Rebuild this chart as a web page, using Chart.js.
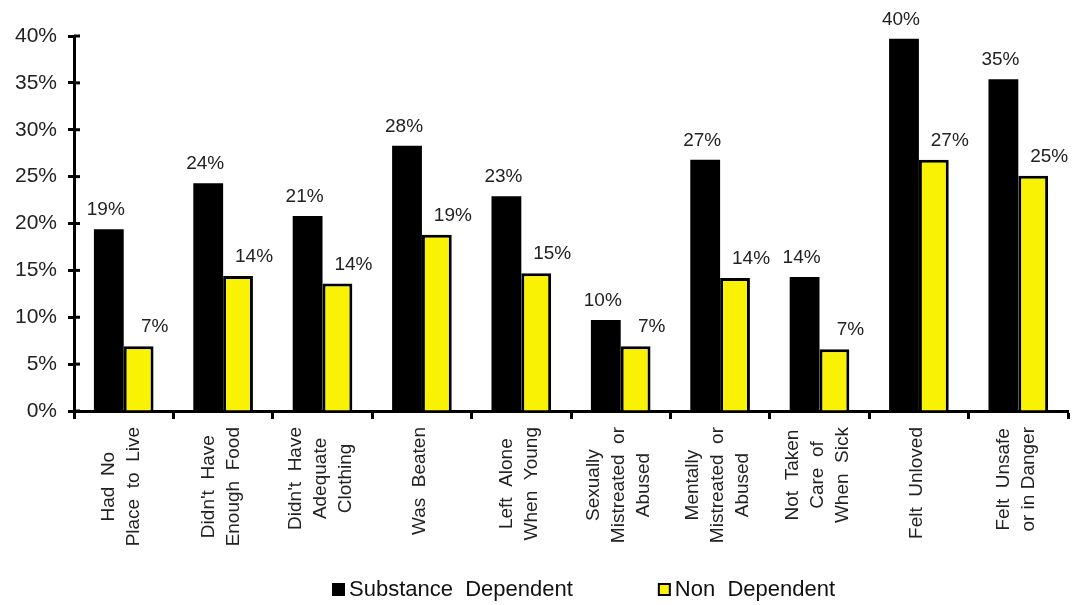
<!DOCTYPE html>
<html>
<head>
<meta charset="utf-8">
<script src="https://cdn.jsdelivr.net/npm/chart.js@4/dist/chart.umd.min.js"></script>
<style>
  html, body { margin: 0; padding: 0; background: #fff; }
  #wrap { width: 1084px; height: 605px; }
</style>
</head>
<body>
<div id="wrap"><canvas id="abuseChart" width="1084" height="605"></canvas></div>
<script>
// categories (one array per line of the rotated label)
const categories = [
  ['Had  No', 'Place  to  Live'],
  ["Didn't  Have", 'Enough  Food'],
  ["Didn't  Have", 'Adequate', 'Clothing'],
  ['Was  Beaten'],
  ['Left  Alone', 'When  Young'],
  ['Sexually', 'Mistreated  or', 'Abused'],
  ['Mentally', 'Mistreated  or', 'Abused'],
  ['Not  Taken', 'Care  of', 'When  Sick'],
  ['Felt  Unloved'],
  ['Felt  Unsafe', 'or in Danger']
];
const substanceDependent = [19.4, 24.3, 20.8, 28.3, 22.9, 9.7, 26.8, 14.3, 39.7, 35.4];
const nonDependent = [6.9, 14.4, 13.6, 18.8, 14.7, 6.9, 14.2, 6.6, 26.8, 25.1];
const yTicks = [0, 5, 10, 15, 20, 25, 30, 35, 40];
const seriesNames = ['Substance  Dependent', 'Non  Dependent'];

const FONT = "'Liberation Sans', Arial, sans-serif";

// value labels above each bar
const valueLabels = {
  id: 'valueLabels',
  afterDatasetsDraw(chart) {
    const ctx = chart.ctx;
    ctx.save();
    ctx.font = '19px ' + FONT;
    ctx.fillStyle = '#222';
    ctx.textAlign = 'center';
    ctx.textBaseline = 'alphabetic';
    chart.data.datasets.forEach((ds, di) => {
      const meta = chart.getDatasetMeta(di);
      meta.data.forEach((bar, i) => {
        const dx = di === 0 ? -3 : 16;
        ctx.fillText(Math.round(ds.data[i]) + '%', bar.x + dx, bar.y - 14);
      });
    });
    ctx.restore();
  }
};

// y tick marks also poke into the plot a little
const innerTicks = {
  id: 'innerTicks',
  afterDraw(chart) {
    const ctx = chart.ctx;
    const ys = chart.scales.y;
    ctx.save();
    ctx.strokeStyle = '#000';
    ctx.lineWidth = 3;
    yTicks.forEach(v => {
      const py = ys.getPixelForValue(v);
      ctx.beginPath();
      ctx.moveTo(ys.right, py);
      ctx.lineTo(ys.right + 6, py);
      ctx.stroke();
    });
    ctx.restore();
  }
};

// rotated multi-line category labels, lines centred on each other
const categoryLabels = {
  id: 'categoryLabels',
  afterDraw(chart) {
    const ctx = chart.ctx;
    const xs = chart.scales.x;
    const top = xs.top + 16;
    const lineH = 25;
    ctx.save();
    ctx.font = '19px ' + FONT;
    ctx.fillStyle = '#222';
    ctx.textAlign = 'center';
    ctx.textBaseline = 'middle';
    categories.forEach((lines, i) => {
      const x = xs.getPixelForValue(i) - 2;
      const w = Math.max(...lines.map(l => ctx.measureText(l).width));
      ctx.save();
      ctx.translate(x, top + w / 2);
      ctx.rotate(-Math.PI / 2);
      lines.forEach((line, j) => {
        ctx.fillText(line, 0, (j - (lines.length - 1) / 2) * lineH);
      });
      ctx.restore();
    });
    ctx.restore();
  }
};

// legend row under the labels
const bottomLegend = {
  id: 'bottomLegend',
  afterDraw(chart) {
    const ctx = chart.ctx;
    const y = 590;
    let x = 332;
    ctx.save();
    ctx.font = '22px ' + FONT;
    ctx.textBaseline = 'middle';
    ctx.textAlign = 'left';
    chart.data.datasets.forEach((ds, i) => {
      ctx.fillStyle = ds.borderWidth ? ds.borderColor : ds.backgroundColor;
      ctx.fillRect(x, y - 7, 13, 13);
      if (ds.borderWidth) {
        ctx.fillStyle = ds.backgroundColor;
        ctx.fillRect(x + 2, y - 5, 9, 9);
      }
      ctx.fillStyle = '#111';
      ctx.fillText(seriesNames[i], x + 17, y);
      x += 17 + ctx.measureText(seriesNames[i]).width + 85;
    });
    ctx.restore();
  }
};

new Chart(document.getElementById('abuseChart'), {
  type: 'bar',
  data: {
    labels: categories,
    datasets: [{
      label: seriesNames[0],
      data: substanceDependent,
      backgroundColor: '#000000',
      borderColor: '#000000',
      borderWidth: 0
    }, {
      label: seriesNames[1],
      data: nonDependent,
      backgroundColor: '#faf205',
      borderColor: '#000000',
      borderWidth: 3
    }]
  },
  options: {
    responsive: false,
    animation: false,
    datasets: {
      bar: { categoryPercentage: 0.6, barPercentage: 1.0 }
    },
    layout: {
      padding: { top: 36, right: 16, bottom: 0, left: 4 }
    },
    scales: {
      x: {
        grid: {
          drawOnChartArea: false,
          drawTicks: true,
          tickLength: 8,
          tickWidth: 3,
          tickColor: '#000'
        },
        border: { color: '#000', width: 3 },
        ticks: { display: false },
        afterFit(scale) { scale.height = 194; }
      },
      y: {
        min: 0,
        max: 40,
        afterBuildTicks(scale) { scale.ticks = yTicks.map(v => ({ value: v })); },
        grid: {
          drawOnChartArea: false,
          tickLength: 6,
          tickWidth: 3,
          tickColor: '#000'
        },
        border: { color: '#000', width: 3 },
        ticks: {
          padding: 11,
          color: '#222',
          font: { family: FONT, size: 21 },
          callback: v => v + '%'
        }
      }
    },
    plugins: {
      tooltip: { enabled: false },
      legend: { display: false }
    }
  },
  plugins: [valueLabels, categoryLabels, innerTicks, bottomLegend]
});
</script>
</body>
</html>
